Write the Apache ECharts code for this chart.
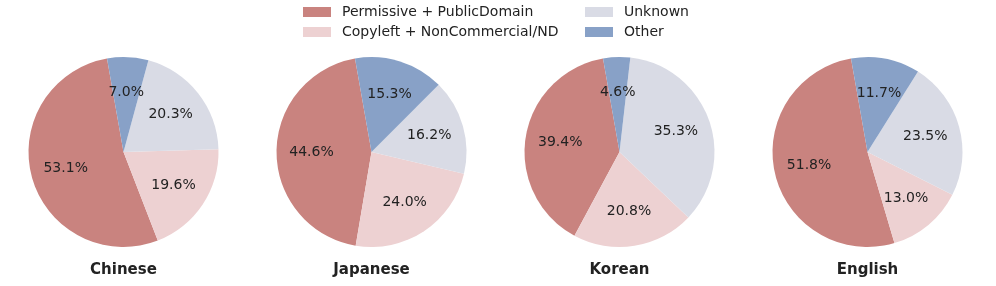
<!DOCTYPE html>
<html>
<head>
<meta charset="utf-8">
<script src="https://cdn.jsdelivr.net/npm/echarts@6/dist/echarts.min.js"></script>
<style>html,body{margin:0;padding:0;background:#fff}#c{width:996px;height:286px}</style>
</head>
<body>
<div id="c"></div>
<script>
const categories = ['Permissive + PublicDomain', 'Copyleft + NonCommercial/ND', 'Unknown', 'Other'];
const languages = ['Chinese', 'Japanese', 'Korean', 'English'];
const chineseValues = [53.1, 19.6, 20.3, 7.0];
const japaneseValues = [44.6, 24.0, 16.2, 15.3];
const koreanValues = [39.4, 20.8, 35.3, 4.6];
const englishValues = [51.8, 13.0, 23.5, 11.7];
const allValues = [chineseValues, japaneseValues, koreanValues, englishValues];
const colors = ['#c9837f', '#edd1d2', '#d9dbe5', '#88a1c7'];

const centersX = [123.5, 371.5, 619.5, 867.5];
const cy = 152;
const R = 95;
const font = 'DejaVu Sans';
const textColor = '#222222';

const series = [];
const graphics = [];
allValues.forEach((vals, i) => {
  const data = vals.map((v, k) => ({ name: categories[k], value: v }));
  series.push({
    type: 'pie', center: [centersX[i], cy], radius: [0, R],
    startAngle: 100, clockwise: false, silent: true, animation: false,
    label: { show: false }, labelLine: { show: false },
    itemStyle: { borderWidth: 0 }, emphasis: { disabled: true },
    data: data
  });
  series.push({
    type: 'pie', center: [centersX[i], cy], radius: [0.2 * R, R],
    startAngle: 100, clockwise: false, silent: true, animation: false,
    legendHoverLink: false,
    itemStyle: { color: 'rgba(0,0,0,0)', borderWidth: 0 },
    label: { show: true, position: 'inside', formatter: p => p.value.toFixed(1) + '%',
      fontFamily: font, fontSize: 14, color: textColor },
    labelLine: { show: false }, emphasis: { disabled: true },
    data: vals.map((v, k) => ({ name: categories[k] + ' ', value: v }))
  });
  graphics.push({
    type: 'text', x: centersX[i], y: 270,
    style: { text: languages[i], textAlign: 'center', textVerticalAlign: 'middle',
      fontFamily: font, fontSize: 15, fontWeight: 'bold', fill: textColor }
  });
});

const legendCommon = {
  orient: 'vertical', top: 5, padding: 0,
  itemWidth: 28, itemHeight: 10, itemGap: 6, icon: 'rect', selectedMode: false,
  textStyle: { fontFamily: font, fontSize: 14, color: textColor, padding: [0, 0, 0, 6] }
};

const chart = echarts.init(document.getElementById('c'), null, { renderer: 'canvas' });
chart.setOption({
  animation: false,
  color: colors,
  graphic: graphics,
  legend: [
    Object.assign({ data: [categories[0], categories[1]], left: 303 }, legendCommon),
    Object.assign({ data: [categories[2], categories[3]], left: 585 }, legendCommon)
  ],
  series: series
});
</script>
</body>
</html>
